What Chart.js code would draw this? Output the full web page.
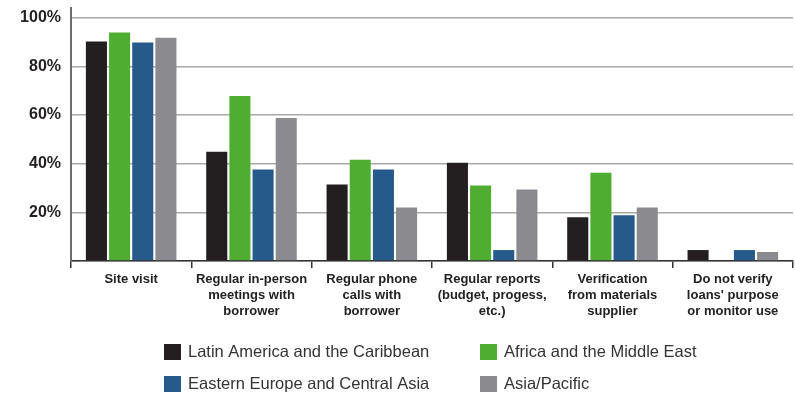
<!DOCTYPE html>
<html>
<head>
<meta charset="utf-8">
<script src="https://cdn.jsdelivr.net/npm/chart.js@4"></script>
<style>
  body { margin: 0; background: #fff; }
  #wrap { width: 795px; height: 394px; position: relative; }
</style>
</head>
<body>
<div id="wrap"><canvas id="chart"></canvas></div>
<script>
// Categorias (rótulos em várias linhas)
const categories = [
    ['Site visit'],
    ['Regular in-person', 'meetings with', 'borrower'],
    ['Regular phone', 'calls with', 'borrower'],
    ['Regular reports', '(budget, progess,', 'etc.)'],
    ['Verification', 'from materials', 'supplier'],
    ['Do not verify', "loans' purpose", 'or monitor use']
];

const seriesNames = [
    'Latin America and the Caribbean',
    'Africa and the Middle East',
    'Eastern Europe and Central Asia',
    'Asia/Pacific'
];

// Valores (%)
const latinAmerica = [90.2, 44.9, 31.4, 40.4, 18.0, 4.5];
const africaMiddleEast = [93.9, 67.8, 41.6, 31.0, 36.3, 0];
const easternEurope = [89.8, 37.6, 37.6, 4.5, 18.8, 4.5];
const asiaPacific = [91.8, 58.8, 22.0, 29.4, 22.0, 3.7];

const yTicks = [0, 20, 40, 60, 80, 100];

const seriesColors = ['#231f20', '#4fae32', '#255a8a', '#8b8b8f'];
const seriesValues = [latinAmerica, africaMiddleEast, easternEurope, asiaPacific];

// Legenda em duas colunas desenhada no canvas
const gridLegend = {
    id: 'gridLegend',
    afterDraw(chart) {
        const ctx = chart.ctx;
        const cols = [164, 480];
        const rows = [344, 376];
        ctx.save();
        ctx.font = '16.5px "Liberation Sans", Arial, sans-serif';
        ctx.textBaseline = 'middle';
        chart.data.datasets.forEach((ds, i) => {
            const x = cols[i % 2];
            const y = rows[Math.floor(i / 2)];
            ctx.fillStyle = ds.backgroundColor;
            ctx.fillRect(x, y, 17, 16);
            ctx.fillStyle = '#333';
            ctx.fillText(ds.label, x + 24, y + 8.5);
        });
        ctx.restore();
    }
};

const ctx = document.getElementById('chart').getContext('2d');
new Chart(ctx, {
    type: 'bar',
    data: {
        labels: categories,
        datasets: seriesNames.map((name, i) => ({
            label: name,
            data: seriesValues[i],
            backgroundColor: seriesColors[i],
            categoryPercentage: 0.77,
            barPercentage: 0.91
        }))
    },
    options: {
        responsive: true,
        maintainAspectRatio: false,
        animation: false,
        layout: { padding: { top: 8, right: 2, left: 0, bottom: 0 } },
        plugins: {
            legend: { display: false },
            tooltip: { enabled: false }
        },
        scales: {
            x: {
                afterFit: scale => { scale.height = 133; },
                grid: {
                    drawOnChartArea: false,
                    drawTicks: true,
                    tickLength: 7,
                    color: '#333',
                    lineWidth: 1.5
                },
                border: { color: '#333', width: 1.5 },
                ticks: {
                    padding: 4,
                    color: '#222',
                    maxRotation: 0,
                    autoSkip: false,
                    font: { family: '"Liberation Sans", Arial, sans-serif', size: 13, weight: 'bold', lineHeight: 1.2 }
                }
            },
            y: {
                min: 0,
                max: 104,
                afterFit: scale => {
                    scale.width = 71;
                    scale.paddingTop = 0;
                    scale.paddingBottom = 0;
                },
                afterBuildTicks: scale => {
                    scale.ticks = yTicks.map(v => ({ value: v }));
                },
                grid: {
                    color: '#a8a8a8',
                    lineWidth: 1.5,
                    drawTicks: false
                },
                border: { color: '#6d6d6d', width: 2 },
                ticks: {
                    autoSkip: false,
                    padding: 10,
                    color: '#231f20',
                    font: { family: '"Liberation Sans", Arial, sans-serif', size: 16, weight: 'bold' },
                    callback: v => (v === 0 ? '' : v + '%')
                }
            }
        }
    },
    plugins: [gridLegend]
});
</script>
</body>
</html>
